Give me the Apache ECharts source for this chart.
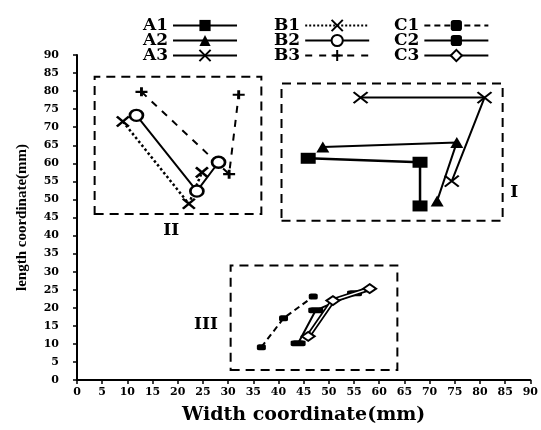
<!DOCTYPE html>
<html><head><meta charset="utf-8">
<script src="https://cdn.jsdelivr.net/npm/echarts@6/dist/echarts.min.js"></script>
<style>html,body{margin:0;padding:0;background:#fff}#c{width:541px;height:430px}</style>
</head><body><div id="c"></div>
<script>
// ---- data (width mm, length mm) ----
const A1 = [[45.9,61.4],[68.1,60.3],[68.1,48.2]];
const A2 = [[48.8,64.5],[75.4,65.8],[71.5,49.6]];
const A3 = [[56.3,78.2],[80.9,78.2],[74.4,55.1]];
const B1 = [[9.1,71.6],[22.2,48.8],[24.8,57.5]];
const B2 = [[11.8,73.3],[23.8,52.3],[28.1,60.3]];
const B3 = [[12.8,79.8],[30.2,57.0],[32.1,79.0]];
const C1 = [[36.6,9.1],[41.0,17.1],[46.9,23.1]];
const C2 = [[43.9,10.2],[47.4,19.3],[55.1,24.0]];
const C3 = [[45.9,12.1],[50.8,22.0],[58.1,25.3]];
const groupBoxes = [
  {name:'I',   from:[40.6,44.1], to:[84.5,82.1], label:[86.8,52.0]},
  {name:'II',  from:[3.5,46.0],  to:[36.6,84.0], label:[18.7,41.3]},
  {name:'III', from:[30.5,2.8],  to:[63.6,31.7], label:[25.6,15.4]}
];
const axisMin = 0, axisMax = 90, axisStep = 5;

const X_PATH = 'path://M0,0L10,10M10,0L0,10';
const PLUS_PATH = 'path://M5,0L5,10M0,5L10,5';
const BLK = '#000';
const serif = 'DejaVu Serif';

function mk(name, data, symbol, size, line, item, z) {
  return {
    name, type:'line', data, symbol, symbolSize:size, symbolKeepAspect:false,
    showSymbol:true, animation:false, z: z || 3,
    lineStyle: Object.assign({color:BLK, width:2, type:'solid'}, line || {}),
    itemStyle: Object.assign({color:BLK, borderColor:BLK, borderWidth:0}, item || {}),
    emphasis:{disabled:true}
  };
}

const series = [
  mk('A1', A1, 'rect', [15,11], {width:2.5}),
  mk('A2', A2, 'triangle', [13,11]),
  mk('A3', A3, X_PATH, [14,11], null, {borderWidth:2}),
  mk('B1', B1, X_PATH, [12,10], {type:'dotted', width:2.5}, {borderWidth:2.5}),
  mk('B2', B2, 'circle', [13,11], null, {color:'#fff', borderWidth:2.5}),
  mk('B3', B3, PLUS_PATH, [12,9], {type:[7,7]}, {borderWidth:2.5}),
  mk('C1', C1, 'roundRect', [9,6], {type:[6,4]}),
  mk('C2', C2, 'roundRect', [15,6]),
  {name:'C3bg', type:'line', data:C3, symbol:'none', animation:false, z:2,
   lineStyle:{color:BLK, width:5}, emphasis:{disabled:true}},
  mk('C3', C3, 'diamond', [13,9], {color:'#fff', width:1.5}, {color:'#fff', borderWidth:2}, 4),
  {name:'boxes', type:'scatter', data:[], animation:false, silent:true,
   markArea:{silent:true,
     itemStyle:{color:'rgba(0,0,0,0)', borderColor:BLK, borderWidth:2, borderType:[9,6]},
     label:{show:false},
     data: groupBoxes.map(b => [{coord:b.from}, {coord:b.to}])},
   markPoint:{silent:true, symbol:'rect', symbolSize:1, itemStyle:{color:'rgba(0,0,0,0)'},
     label:{show:true, position:'inside', color:BLK, fontFamily:serif, fontWeight:'bold', fontSize:17,
       formatter:p=>p.name},
     data: groupBoxes.map(b => ({name:b.name, coord:b.label}))}
  }
];

const legText = {fontFamily:serif, fontWeight:'bold', fontSize:17, color:BLK};
function leg(left, names) {
  return {orient:'vertical', left, top:12, align:'right', itemWidth:64, itemHeight:14, itemGap:-2,
    textStyle:legText, selectedMode:false, data:names.map(n => n==='C3' ? {name:n, lineStyle:{color:BLK,width:2}} : n)};
}

const axisCommon = {
  type:'value', min:axisMin, max:axisMax, interval:axisStep,
  axisLine:{show:true, onZero:false, lineStyle:{color:BLK, width:2}},
  axisTick:{show:true, length:4, lineStyle:{color:BLK, width:1.5}},
  splitLine:{show:false},
  nameLocation:'middle'
};

const chart = echarts.init(document.getElementById('c'), null, {renderer:'canvas'});
chart.setOption({
  backgroundColor:'#fff',
  animation:false,
  grid:{left:77, right:8, top:55, bottom:48},
  legend:[leg(138,['A1','A2','A3']), leg(269,['B1','B2','B3']), leg(389,['C1','C2','C3'])],
  xAxis: Object.assign({}, axisCommon, {
    name:'Width coordinate(mm)', nameGap:26,
    nameTextStyle:{fontFamily:serif, fontWeight:'bold', fontSize:19, color:BLK},
    axisLabel:{fontFamily:serif, fontWeight:'bold', fontSize:11, color:BLK, margin:7}
  }),
  yAxis: Object.assign({}, axisCommon, {
    name:'length coordinate(mm)', nameGap:47,
    nameTextStyle:{fontFamily:'Liberation Serif', fontWeight:'bold', fontSize:15, color:BLK},
    axisLabel:{fontFamily:serif, fontWeight:'bold', fontSize:11, color:BLK, margin:18}
  }),
  series
});
</script></body></html>
